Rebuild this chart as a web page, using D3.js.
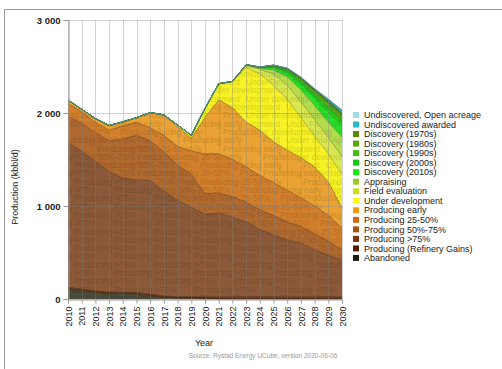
<!DOCTYPE html>
<html>
<head>
<meta charset="utf-8">
<script src="https://cdn.jsdelivr.net/npm/d3@7"></script>
<style>
  body { margin: 0; background: #fff; }
  text { font-family: "Liberation Sans", Arial, sans-serif; }
</style>
</head>
<body>
<div id="chart"></div>
<script>
// Years on the x axis
const years = d3.range(2010, 2031);

// Layer thickness, kbbl/d, bottom to top
const abandoned      = [105, 85, 65, 55, 50, 48, 30, 12, 4, 2, 1, 0, 0, 0, 0, 0, 0, 0, 0, 0, 0];
const refineryGains  = [20, 20, 20, 20, 20, 20, 20, 20, 20, 20, 20, 20, 20, 20, 20, 20, 20, 20, 20, 20, 20];
const producing75    = [1555, 1485, 1395, 1295, 1230, 1212, 1220, 1128, 1036, 963, 889, 905, 860, 810, 725, 670, 615, 580, 510, 450, 395];
const producing5075  = [280, 300, 310, 330, 420, 480, 430, 420, 380, 355, 220, 215, 220, 210, 215, 210, 195, 180, 170, 150, 115];
const producing2550  = [140, 120, 110, 115, 140, 140, 140, 180, 200, 250, 430, 420, 400, 380, 370, 350, 340, 310, 300, 280, 235];
const producingEarly = [40, 30, 40, 50, 45, 50, 165, 215, 210, 140, 390, 580, 560, 480, 485, 440, 430, 430, 420, 360, 215];
const underDev       = [0, 0, 0, 0, 0, 0, 0, 5, 20, 30, 100, 170, 275, 590, 605, 610, 550, 430, 330, 300, 360];
const fieldEval      = [0, 0, 0, 0, 0, 0, 0, 0, 0, 0, 0, 5, 5, 20, 50, 120, 150, 170, 180, 180, 190];
const appraising     = [0, 0, 0, 0, 0, 0, 0, 0, 0, 0, 0, 0, 0, 5, 10, 40, 90, 130, 150, 160, 210];
const disc2010s      = [0, 0, 0, 0, 0, 0, 0, 0, 0, 0, 0, 0, 0, 3, 8, 28, 45, 65, 85, 115, 125];
const disc2000s      = [0, 0, 0, 0, 0, 0, 0, 0, 0, 0, 0, 0, 0, 1, 3, 11, 18, 26, 34, 45, 50];
const disc1990s      = [0, 0, 0, 0, 0, 0, 0, 0, 0, 0, 0, 0, 0, 1, 2, 8, 14, 20, 26, 34, 38];
const disc1980s      = [0, 0, 0, 0, 0, 0, 0, 0, 0, 0, 0, 0, 0, 0, 1, 5, 9, 13, 17, 22, 25];
const disc1970s      = [0, 0, 0, 0, 0, 0, 0, 0, 0, 0, 0, 0, 0, 0, 1, 3, 4, 6, 8, 11, 14];
const undiscAwarded  = [0, 0, 0, 0, 0, 0, 0, 0, 0, 0, 0, 0, 0, 0, 0, 0, 2, 5, 10, 20, 32];
const undiscOpen     = [0, 0, 0, 0, 0, 0, 0, 0, 0, 0, 0, 0, 0, 0, 0, 0, 0, 0, 1, 3, 8];

// Series names, bottom to top
const seriesNames = [
    'Abandoned', 'Producing (Refinery Gains)', 'Producing >75%', 'Producing 50%-75%',
    'Producing 25-50%', 'Producing early', 'Under development', 'Field evaluation',
    'Appraising', 'Discovery (2010s)', 'Discovery (2000s)', 'Discovery (1990s)',
    'Discovery (1980s)', 'Discovery (1970s)', 'Undiscovered awarded', 'Undiscovered, Open acreage'
];
const seriesValues = [
    abandoned, refineryGains, producing75, producing5075, producing2550, producingEarly,
    underDev, fieldEval, appraising, disc2010s, disc2000s, disc1990s, disc1980s, disc1970s,
    undiscAwarded, undiscOpen
];

// Y axis ticks
const yTicks = [0, 1000, 2000, 3000];
const yTickLabels = ['0', '1 000', '2 000', '3 000'];

// Colours: area fill and legend swatch
const areaColors = {
    'Abandoned': '#4b4b3c',
    'Producing (Refinery Gains)': '#6a3414',
    'Producing >75%': '#8c5a38',
    'Producing 50%-75%': '#b0692f',
    'Producing 25-50%': '#d17f2c',
    'Producing early': '#e9a233',
    'Under development': '#f6f225',
    'Field evaluation': '#d8e84e',
    'Appraising': '#b2dc4c',
    'Discovery (2010s)': '#27e027',
    'Discovery (2000s)': '#26c81e',
    'Discovery (1990s)': '#58b61c',
    'Discovery (1980s)': '#60a010',
    'Discovery (1970s)': '#5c8a08',
    'Undiscovered awarded': '#25b4c2',
    'Undiscovered, Open acreage': '#a2dbe0'
};
const swatchColors = {
    'Abandoned': '#1c1c10',
    'Producing (Refinery Gains)': '#5a1a02',
    'Producing >75%': '#7a3410',
    'Producing 50%-75%': '#a8520e',
    'Producing 25-50%': '#d0680e',
    'Producing early': '#f09a10',
    'Under development': '#ffff00',
    'Field evaluation': '#ccdd20',
    'Appraising': '#99cc22',
    'Discovery (2010s)': '#11ee11',
    'Discovery (2000s)': '#11cc11',
    'Discovery (1990s)': '#44bb11',
    'Discovery (1980s)': '#55aa00',
    'Discovery (1970s)': '#558800',
    'Undiscovered awarded': '#22bbcc',
    'Undiscovered, Open acreage': '#a0dde2'
};

function init() {
    const width = 502;
    const height = 369;
    const plot = {left: 68, right: 342, top: 20, bottom: 299};

    const svg = d3.select('#chart')
        .append('svg')
        .attr('width', width)
        .attr('height', height);

    // Outer frame (cut off at right and bottom)
    svg.append('path')
        .attr('d', `M4.5,${height + 2} V9.5 H${width + 2}`)
        .attr('fill', 'none')
        .attr('stroke', '#999')
        .attr('stroke-width', 1);

    // Build table for the stack
    const table = years.map((yr, i) => {
        const row = {year: yr};
        seriesNames.forEach((name, k) => { row[name] = seriesValues[k][i]; });
        return row;
    });

    const stack = d3.stack().keys(seriesNames);
    const layers = stack(table);

    const x = d3.scaleLinear()
        .domain([2010, 2030])
        .range([plot.left, plot.right]);

    const y = d3.scaleLinear()
        .domain([0, 3000])
        .range([plot.bottom, plot.top]);

    const area = d3.area()
        .x(d => x(d.data.year))
        .y0(d => y(d[0]))
        .y1(d => y(d[1]));

    const topLine = d3.line()
        .x(d => x(d.data.year))
        .y(d => y(d[1]));

    const defs = svg.append('defs');

    // Draw areas
    const areaGroup = svg.append('g');
    layers.forEach((layer, k) => {
        const name = layer.key;
        const col = areaColors[name];

        defs.append('clipPath')
            .attr('id', 'clip' + k)
            .append('path')
            .attr('d', area(layer));

        areaGroup.append('path')
            .attr('d', area(layer))
            .attr('fill', col);

        // Repeated faint series labels inside the layer (clipped to it)
        const labelGroup = areaGroup.append('g')
            .attr('clip-path', `url(#clip${k})`)
            .attr('fill', d3.color(col).darker(0.8))
            .attr('fill-opacity', 0.55)
            .style('font-size', '8.5px');
        let row = 0;
        for (let ty = plot.top + 7; ty < plot.bottom + 8; ty += 8.3) {
            const off = (row % 2 === 0 ? 0 : 40) + (k * 23) % 80;
            for (let tx = plot.left - 80 + off; tx < plot.right; tx += 80) {
                if (tx < 12) continue;
                labelGroup.append('text')
                    .attr('x', tx)
                    .attr('y', ty)
                    .text(name);
            }
            row++;
        }
    });

    // Darker outline on top of each layer
    layers.forEach(layer => {
        const total = d3.sum(layer, d => d[1] - d[0]);
        if (total === 0) return;
        areaGroup.append('path')
            .attr('d', topLine(layer))
            .attr('fill', 'none')
            .attr('stroke', d3.color(areaColors[layer.key]).darker(1.1))
            .attr('stroke-width', 0.8);
    });

    // Grid lines drawn over the areas, faint
    const grid = svg.append('g')
        .attr('stroke', '#808080')
        .attr('stroke-opacity', 0.35)
        .attr('stroke-width', 1);
    years.forEach(yr => {
        grid.append('line')
            .attr('x1', Math.round(x(yr)) + 0.5)
            .attr('x2', Math.round(x(yr)) + 0.5)
            .attr('y1', plot.top)
            .attr('y2', plot.bottom);
    });
    yTicks.forEach(t => {
        grid.append('line')
            .attr('x1', plot.left)
            .attr('x2', plot.right)
            .attr('y1', Math.round(y(t)) + 0.5)
            .attr('y2', Math.round(y(t)) + 0.5);
    });

    // X axis
    const xAxis = svg.append('g')
        .attr('transform', `translate(0,${plot.bottom + 0.5})`)
        .call(d3.axisBottom(x)
            .tickValues(years)
            .tickFormat(d3.format('d'))
            .tickSize(4)
            .tickPadding(3));
    xAxis.select('.domain').attr('stroke', '#999');
    xAxis.selectAll('.tick line').attr('stroke', '#999');
    xAxis.selectAll('.tick text')
        .attr('transform', 'rotate(-90)')
        .attr('text-anchor', 'end')
        .attr('x', -7)
        .attr('y', 0)
        .attr('dy', '0.35em')
        .attr('fill', '#222')
        .style('font-size', '9px');

    // Y axis
    const yAxis = svg.append('g')
        .attr('transform', `translate(${plot.left + 0.5},0)`)
        .call(d3.axisLeft(y)
            .tickValues(yTicks)
            .tickFormat((d, i) => yTickLabels[i])
            .tickSize(5)
            .tickPadding(3));
    yAxis.select('.domain').attr('stroke', '#999');
    yAxis.selectAll('.tick line').attr('stroke', '#999');
    yAxis.selectAll('.tick text')
        .attr('fill', '#222')
        .style('font-size', '9.5px')
        .style('font-weight', 'bold');

    // Axis titles
    svg.append('text')
        .attr('transform', 'translate(18,187) rotate(-90)')
        .attr('text-anchor', 'middle')
        .attr('fill', '#222')
        .style('font-size', '9px')
        .text('Production (kbbl/d)');

    svg.append('text')
        .attr('x', 204)
        .attr('y', 346)
        .attr('text-anchor', 'middle')
        .attr('fill', '#222')
        .style('font-size', '9px')
        .text('Year');

    svg.append('text')
        .attr('x', 263)
        .attr('y', 358)
        .attr('text-anchor', 'middle')
        .attr('fill', '#999')
        .style('font-size', '6.5px')
        .text('Source: Rystad Energy UCube, version 2020-06-06');

    // Legend, top to bottom
    const legendNames = seriesNames.slice().reverse();
    const legend = svg.append('g')
        .attr('transform', 'translate(353,115)');
    legendNames.forEach((name, i) => {
        const g = legend.append('g')
            .attr('transform', `translate(0,${i * 9.53})`);
        g.append('rect')
            .attr('x', 0)
            .attr('y', -3)
            .attr('width', 6)
            .attr('height', 6)
            .attr('fill', swatchColors[name]);
        g.append('text')
            .attr('x', 11)
            .attr('y', 0)
            .attr('dy', '0.35em')
            .attr('fill', '#222')
            .style('font-size', '9px')
            .text(name);
    });
}

document.addEventListener('DOMContentLoaded', init);
</script>
</body>
</html>
